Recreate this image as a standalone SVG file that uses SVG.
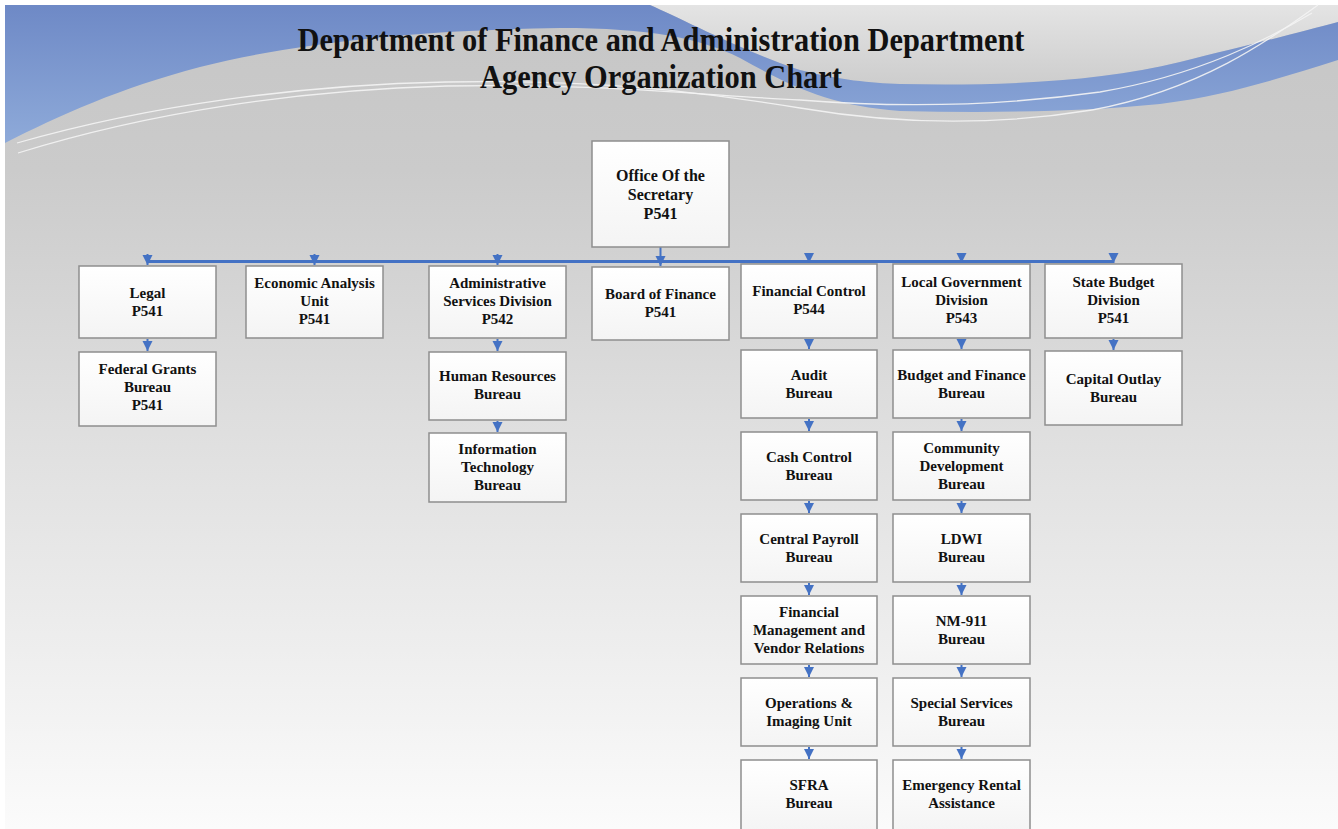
<svg xmlns="http://www.w3.org/2000/svg" width="1338" height="829" viewBox="0 0 1338 829">
<defs>
<linearGradient id="bg" x1="0" y1="0" x2="0" y2="1">
<stop offset="0" stop-color="#c6c6c6"/>
<stop offset="0.2" stop-color="#cbcbcb"/>
<stop offset="0.5" stop-color="#dedede"/>
<stop offset="0.8" stop-color="#efefef"/>
<stop offset="1" stop-color="#fbfbfb"/>
</linearGradient>
<linearGradient id="blue" x1="0" y1="0" x2="0" y2="1">
<stop offset="0" stop-color="#6e89c6"/>
<stop offset="1" stop-color="#8eaad9"/>
</linearGradient>
<linearGradient id="light" x1="0" y1="0" x2="0" y2="1">
<stop offset="0" stop-color="#e4e4e4"/>
<stop offset="1" stop-color="#cdcdcd"/>
</linearGradient>
<linearGradient id="boxGrad" x1="0" y1="0" x2="0" y2="1">
<stop offset="0" stop-color="#ffffff"/>
<stop offset="1" stop-color="#f4f4f4"/>
</linearGradient>
<marker id="arr" viewBox="0 0 10 10" refX="10" refY="5" markerWidth="10" markerHeight="11" markerUnits="userSpaceOnUse" orient="auto">
<path d="M0,0 L10,5 L0,10 Z" fill="#4472c4"/>
</marker>
<style>
.box { fill: url(#boxGrad); stroke: #8e8e8e; stroke-width: 1.5; }
.lbl { font-family: "Liberation Serif", "Times New Roman", serif; font-weight: bold; font-size: 15px; fill: #111111; text-anchor: middle; }
.big { font-size: 16px; }
.title { font-family: "Liberation Serif", "Times New Roman", serif; font-weight: bold; font-size: 33px; fill: #111111; text-anchor: middle; }
.conn { stroke: #4472c4; stroke-width: 2; fill: none; marker-end: url(#arr); }
.bus { stroke: #4472c4; stroke-width: 3; fill: none; }
.wl { stroke: #f4f4f4; stroke-width: 1.3; fill: none; opacity: 0.9; }
</style>
</defs>

<g id="background">
<rect x="0" y="0" width="1338" height="829" fill="#ffffff"/>
<rect x="5" y="5" width="1333" height="824" fill="url(#bg)"/>
<path d="M650,5 L1338,5 L1338,22 C1300,32 1250,45 1180,62 C1100,82 1000,86 900,84 C870,83 840,80 800,70 C745,52 680,18 650,5 Z" fill="url(#light)"/>
<path d="M5,5 L650,5 C680,18 745,52 800,70 C840,80 870,83 900,84 C1000,86 1100,82 1180,62 C1250,45 1300,32 1338,22 L1338,60 C1280,78 1230,95 1160,104 C1080,112 990,113 900,111 C830,106 790,86 740,58 C700,38 650,28 560,28 C420,30 300,42 200,67 C120,88 60,115 5,143 Z" fill="url(#blue)"/>
<path class="wl" d="M17,143 C150,105 300,85 446,82 C600,79 700,92 800,108 C900,125 1000,125 1092,110 C1200,90 1270,40 1318,5"/>
<path class="wl" d="M18,153 C150,112 300,90 446,86 C600,83 700,95 800,100 C900,108 1000,106 1100,92 C1200,75 1270,38 1312,13"/>
</g>

<g id="title">
<text class="title" x="661" y="51" textLength="727" lengthAdjust="spacingAndGlyphs">Department of Finance and Administration Department</text>
<text class="title" x="661" y="88" textLength="362" lengthAdjust="spacingAndGlyphs">Agency Organization Chart</text>
</g>

<g id="connectors">
<line class="bus" x1="147.5" y1="261.5" x2="1113.5" y2="261.5"/>
<line class="conn" x1="660.5" y1="247" x2="660.5" y2="266"/>
<line class="conn" x1="147.5" y1="254" x2="147.5" y2="265"/>
<line class="conn" x1="314.5" y1="254" x2="314.5" y2="265"/>
<line class="conn" x1="497.5" y1="254" x2="497.5" y2="265"/>
<line class="conn" x1="809" y1="253" x2="809" y2="263"/>
<line class="conn" x1="961.5" y1="253" x2="961.5" y2="263"/>
<line class="conn" x1="1113.5" y1="253" x2="1113.5" y2="263"/>
<line class="conn" x1="147.5" y1="339" x2="147.5" y2="351"/>
<line class="conn" x1="497.5" y1="339" x2="497.5" y2="351"/>
<line class="conn" x1="497.5" y1="421" x2="497.5" y2="432"/>
<line class="conn" x1="809" y1="339" x2="809" y2="349"/>
<line class="conn" x1="809" y1="419" x2="809" y2="431"/>
<line class="conn" x1="809" y1="501" x2="809" y2="513"/>
<line class="conn" x1="809" y1="583" x2="809" y2="595"/>
<line class="conn" x1="809" y1="665" x2="809" y2="677"/>
<line class="conn" x1="809" y1="747" x2="809" y2="759"/>
<line class="conn" x1="961.5" y1="339" x2="961.5" y2="349"/>
<line class="conn" x1="961.5" y1="419" x2="961.5" y2="431"/>
<line class="conn" x1="961.5" y1="501" x2="961.5" y2="513"/>
<line class="conn" x1="961.5" y1="583" x2="961.5" y2="595"/>
<line class="conn" x1="961.5" y1="665" x2="961.5" y2="677"/>
<line class="conn" x1="961.5" y1="747" x2="961.5" y2="759"/>
<line class="conn" x1="1113.5" y1="339" x2="1113.5" y2="350"/>
</g>

<g id="office">
<rect class="box" x="592" y="141" width="137" height="106"/>
<text class="lbl big" x="660.5" y="180.5">Office Of the</text>
<text class="lbl big" x="660.5" y="200">Secretary</text>
<text class="lbl big" x="660.5" y="218.5">P541</text>
</g>

<g id="legal">
<rect class="box" x="79" y="266" width="137" height="72"/>
<text class="lbl" x="147.5" y="298">Legal</text>
<text class="lbl" x="147.5" y="316">P541</text>
</g>

<g id="economic">
<rect class="box" x="246" y="266" width="137" height="72"/>
<text class="lbl" x="314.5" y="288">Economic Analysis</text>
<text class="lbl" x="314.5" y="306">Unit</text>
<text class="lbl" x="314.5" y="324">P541</text>
</g>

<g id="admin">
<rect class="box" x="429" y="266" width="137" height="72"/>
<text class="lbl" x="497.5" y="288">Administrative</text>
<text class="lbl" x="497.5" y="306">Services Division</text>
<text class="lbl" x="497.5" y="324">P542</text>
</g>

<g id="board">
<rect class="box" x="592" y="267" width="137" height="73"/>
<text class="lbl" x="660.5" y="299">Board of Finance</text>
<text class="lbl" x="660.5" y="317">P541</text>
</g>

<g id="fincontrol">
<rect class="box" x="741" y="264" width="136" height="74"/>
<text class="lbl" x="809" y="296">Financial Control</text>
<text class="lbl" x="809" y="314">P544</text>
</g>

<g id="localgov">
<rect class="box" x="893" y="264" width="137" height="74"/>
<text class="lbl" x="961.5" y="287">Local Government</text>
<text class="lbl" x="961.5" y="305">Division</text>
<text class="lbl" x="961.5" y="323">P543</text>
</g>

<g id="statebudget">
<rect class="box" x="1045" y="264" width="137" height="74"/>
<text class="lbl" x="1113.5" y="287">State Budget</text>
<text class="lbl" x="1113.5" y="305">Division</text>
<text class="lbl" x="1113.5" y="323">P541</text>
</g>

<g id="federalgrants">
<rect class="box" x="79" y="352" width="137" height="74"/>
<text class="lbl" x="147.5" y="374">Federal Grants</text>
<text class="lbl" x="147.5" y="392">Bureau</text>
<text class="lbl" x="147.5" y="410">P541</text>
</g>

<g id="hr">
<rect class="box" x="429" y="352" width="137" height="68"/>
<text class="lbl" x="497.5" y="381">Human Resources</text>
<text class="lbl" x="497.5" y="399">Bureau</text>
</g>

<g id="it">
<rect class="box" x="429" y="433" width="137" height="69"/>
<text class="lbl" x="497.5" y="454">Information</text>
<text class="lbl" x="497.5" y="472">Technology</text>
<text class="lbl" x="497.5" y="490">Bureau</text>
</g>

<g id="audit">
<rect class="box" x="741" y="350" width="136" height="68"/>
<text class="lbl" x="809" y="380">Audit</text>
<text class="lbl" x="809" y="398">Bureau</text>
</g>

<g id="cashcontrol">
<rect class="box" x="741" y="432" width="136" height="68"/>
<text class="lbl" x="809" y="462">Cash Control</text>
<text class="lbl" x="809" y="480">Bureau</text>
</g>

<g id="payroll">
<rect class="box" x="741" y="514" width="136" height="68"/>
<text class="lbl" x="809" y="544">Central Payroll</text>
<text class="lbl" x="809" y="562">Bureau</text>
</g>

<g id="finmgmt">
<rect class="box" x="741" y="596" width="136" height="68"/>
<text class="lbl" x="809" y="617">Financial</text>
<text class="lbl" x="809" y="635">Management and</text>
<text class="lbl" x="809" y="653">Vendor Relations</text>
</g>

<g id="operations">
<rect class="box" x="741" y="678" width="136" height="68"/>
<text class="lbl" x="809" y="708">Operations &amp;</text>
<text class="lbl" x="809" y="726">Imaging Unit</text>
</g>

<g id="sfra">
<rect class="box" x="741" y="760" width="136" height="72"/>
<text class="lbl" x="809" y="790">SFRA</text>
<text class="lbl" x="809" y="808">Bureau</text>
</g>

<g id="budgetfinance">
<rect class="box" x="893" y="350" width="137" height="68"/>
<text class="lbl" x="961.5" y="380">Budget and Finance</text>
<text class="lbl" x="961.5" y="398">Bureau</text>
</g>

<g id="community">
<rect class="box" x="893" y="432" width="137" height="68"/>
<text class="lbl" x="961.5" y="453">Community</text>
<text class="lbl" x="961.5" y="471">Development</text>
<text class="lbl" x="961.5" y="489">Bureau</text>
</g>

<g id="ldwi">
<rect class="box" x="893" y="514" width="137" height="68"/>
<text class="lbl" x="961.5" y="544">LDWI</text>
<text class="lbl" x="961.5" y="562">Bureau</text>
</g>

<g id="nm911">
<rect class="box" x="893" y="596" width="137" height="68"/>
<text class="lbl" x="961.5" y="626">NM-911</text>
<text class="lbl" x="961.5" y="644">Bureau</text>
</g>

<g id="specialservices">
<rect class="box" x="893" y="678" width="137" height="68"/>
<text class="lbl" x="961.5" y="708">Special Services</text>
<text class="lbl" x="961.5" y="726">Bureau</text>
</g>

<g id="emergencyrental">
<rect class="box" x="893" y="760" width="137" height="72"/>
<text class="lbl" x="961.5" y="790">Emergency Rental</text>
<text class="lbl" x="961.5" y="808">Assistance</text>
</g>

<g id="capitaloutlay">
<rect class="box" x="1045" y="351" width="137" height="74"/>
<text class="lbl" x="1113.5" y="384">Capital Outlay</text>
<text class="lbl" x="1113.5" y="402">Bureau</text>
</g>
</svg>
